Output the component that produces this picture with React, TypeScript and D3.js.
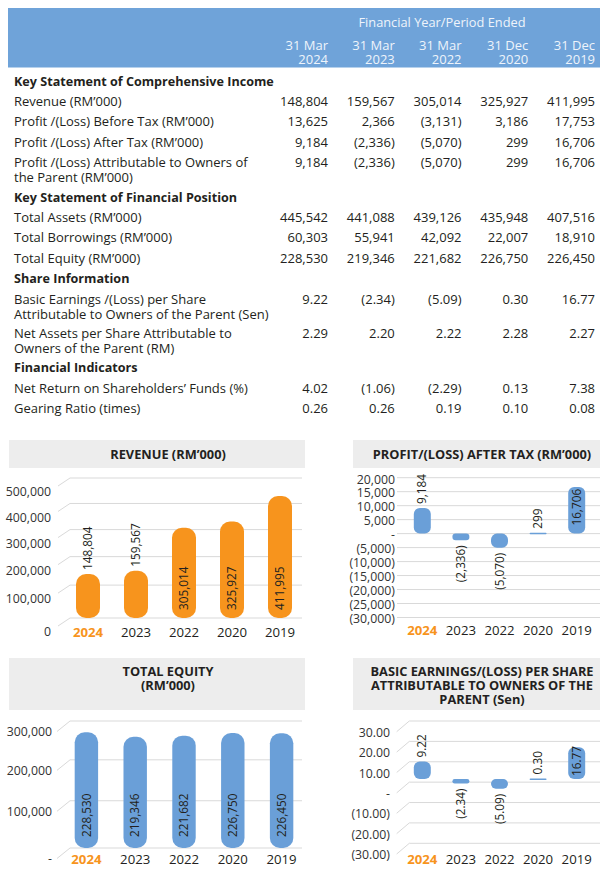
import React from 'react';
import * as d3 from 'd3';

// ---------- DATA ----------
const years = ['2024', '2023', '2022', '2020', '2019'];
const periodEnds = ['31 Mar', '31 Mar', '31 Mar', '31 Dec', '31 Dec'];
const tableHeader = 'Financial Year/Period Ended';

const revenue = [148804, 159567, 305014, 325927, 411995];
const profitBeforeTax = [13625, 2366, -3131, 3186, 17753];
const profitAfterTax = [9184, -2336, -5070, 299, 16706];
const profitOwners = [9184, -2336, -5070, 299, 16706];
const totalAssets = [445542, 441088, 439126, 435948, 407516];
const totalBorrowings = [60303, 55941, 42092, 22007, 18910];
const totalEquity = [228530, 219346, 221682, 226750, 226450];
const basicEps = [9.22, -2.34, -5.09, 0.3, 16.77];
const netAssetsPerShare = [2.29, 2.2, 2.22, 2.28, 2.27];
const netReturn = [4.02, -1.06, -2.29, 0.13, 7.38];
const gearingRatio = [0.26, 0.26, 0.19, 0.1, 0.08];

const revenueTicks = [0, 100000, 200000, 300000, 400000, 500000];
const profitTicks = [-30000, -25000, -20000, -15000, -10000, -5000, 0, 5000, 10000, 15000, 20000];
const equityTicks = [0, 100000, 200000, 300000];
const epsTicks = [-30, -20, -10, 0, 10, 20, 30];

const revenueTitle = ['REVENUE (RM’000)'];
const profitTitle = ['PROFIT/(LOSS) AFTER TAX (RM’000)'];
const equityTitle = ['TOTAL EQUITY', '(RM’000)'];
const epsTitle = ['BASIC EARNINGS/(LOSS) PER SHARE', 'ATTRIBUTABLE TO OWNERS OF THE', 'PARENT (Sen)'];

// ---------- STYLE ----------
const FONT = "'Open Sans', 'Noto Sans', sans-serif";
const TEXT = '#231f20';
const BLUE = '#6fa3d9';
const BAR_BLUE = '#6a9fd8';
const ORANGE = '#f7941d';
const GRAY_BAND = '#ededed';
const GRID = '#d9d9d9';

const fInt = d3.format(',');
const f2 = d3.format('.2f');
const fmtInt = (v: number) => (v < 0 ? `(${fInt(-v)})` : fInt(v));
const fmtDec = (v: number) => (v < 0 ? `(${f2(-v)})` : f2(v));

type Row =
  | { kind: 'section'; label: string }
  | { kind: 'row'; lines: string[]; values: number[]; fmt: (v: number) => string };

const tableRows: Row[] = [
  { kind: 'section', label: 'Key Statement of Comprehensive Income' },
  { kind: 'row', lines: ['Revenue (RM’000)'], values: revenue, fmt: fmtInt },
  { kind: 'row', lines: ['Profit /(Loss) Before Tax (RM’000)'], values: profitBeforeTax, fmt: fmtInt },
  { kind: 'row', lines: ['Profit /(Loss) After Tax (RM’000)'], values: profitAfterTax, fmt: fmtInt },
  { kind: 'row', lines: ['Profit /(Loss) Attributable to Owners of', 'the Parent (RM’000)'], values: profitOwners, fmt: fmtInt },
  { kind: 'section', label: 'Key Statement of Financial Position' },
  { kind: 'row', lines: ['Total Assets (RM’000)'], values: totalAssets, fmt: fmtInt },
  { kind: 'row', lines: ['Total Borrowings (RM’000)'], values: totalBorrowings, fmt: fmtInt },
  { kind: 'row', lines: ['Total Equity (RM’000)'], values: totalEquity, fmt: fmtInt },
  { kind: 'section', label: 'Share Information' },
  { kind: 'row', lines: ['Basic Earnings /(Loss) per Share', 'Attributable to Owners of the Parent (Sen)'], values: basicEps, fmt: fmtDec },
  { kind: 'row', lines: ['Net Assets per Share Attributable to', 'Owners of the Parent (RM)'], values: netAssetsPerShare, fmt: fmtDec },
  { kind: 'section', label: 'Financial Indicators' },
  { kind: 'row', lines: ['Net Return on Shareholders’ Funds (%)'], values: netReturn, fmt: fmtDec },
  { kind: 'row', lines: ['Gearing Ratio (times)'], values: gearingRatio, fmt: fmtDec },
];

function Table() {
  const col = d3.scalePoint<string>().domain(years).range([328, 595]);
  const items: React.ReactNode[] = [];
  let y = 81;
  tableRows.forEach((r, i) => {
    if (r.kind === 'section') {
      items.push(
        <text key={i} x={14} y={y + 4.5} fontWeight={700} fontSize={12.6} fill={TEXT}>
          {r.label}
        </text>
      );
      y += 20.4;
    } else {
      items.push(
        <text key={`${i}-l`} x={14} y={y + 4.5} fontSize={13} fill={TEXT}>
          {r.lines.map((ln, j) => (
            <tspan key={j} x={14} dy={j === 0 ? 0 : 15}>
              {ln}
            </tspan>
          ))}
        </text>
      );
      r.values.forEach((v, k) => {
        items.push(
          <text key={`${i}-v${k}`} x={col(years[k])} y={y + 4.5} fontSize={13} fill={TEXT} textAnchor="end">
            {r.fmt(v)}
          </text>
        );
      });
      y += r.lines.length > 1 ? 34.4 : 20.4;
    }
  });
  return (
    <g fontFamily={FONT}>
      <rect x={8} y={8} width={592} height={59.5} fill={BLUE} />
      <text x={442} y={26.5} textAnchor="middle" fontSize={12.8} fill="#eef4fb">
        {tableHeader}
      </text>
      {years.map((yr, k) => (
        <text key={yr} x={col(yr)} y={50} fontSize={13} fill="#eef4fb" textAnchor="end">
          <tspan x={col(yr)} dy={0}>{periodEnds[k]}</tspan>
          <tspan x={col(yr)} dy={14}>{yr}</tspan>
        </text>
      ))}
      {items}
    </g>
  );
}

type PanelCfg = {
  values: number[];
  color: string;
  xRange: [number, number];
  barFrac: number;
  maxR: number;
  grid: (v: number) => number;
  bar: (v: number) => number;
  ticks: number[];
  tickFmt: (v: number) => string;
  tickX: number;
  tickDy: number;
  slantDx: number;
  slantDy: number;
  gridLeft: number;
  gridRight: number;
  band: [number, number, number, number];
  title: string[];
  titleX: number;
  titleY: number;
  titleLH: number;
  insideMin: number;
  insidePad: number;
  valueFmt: (v: number) => string;
  xLabelY: number;
};

function Panel({ c }: { c: PanelCfg }) {
  const x = d3.scalePoint<string>().domain(years).range(c.xRange).padding(0.5);
  const bw = x.step() * c.barFrac;
  const zero = c.bar(0);
  return (
    <g fontFamily={FONT}>
      <rect x={c.band[0]} y={c.band[1]} width={c.band[2]} height={c.band[3]} fill={GRAY_BAND} />
      <text x={c.titleX} y={c.titleY} textAnchor="middle" fontWeight={700} fontSize={12.8} fill={TEXT}>
        {c.title.map((t, i) => (
          <tspan key={i} x={c.titleX} dy={i === 0 ? 0 : c.titleLH}>
            {t}
          </tspan>
        ))}
      </text>
      {c.ticks.map((t) => {
        const gy = c.grid(t);
        return (
          <g key={t}>
            <path
              d={`M${c.gridLeft},${gy + c.slantDy}L${c.gridLeft + c.slantDx},${gy}H${c.gridRight}`}
              fill="none"
              stroke={GRID}
              strokeWidth={1}
            />
            <text x={c.tickX} y={gy + c.tickDy} dy="0.35em" textAnchor="end" fontSize={12.3} fill="#333">
              {c.tickFmt(t)}
            </text>
          </g>
        );
      })}
      {c.values.map((v, i) => {
        const cx = x(years[i])!;
        const yv = c.bar(v);
        const top = Math.min(yv, zero);
        const h = Math.max(Math.abs(yv - zero), 1.5);
        const r = Math.min(c.maxR, h / 2, bw / 2);
        const label = c.valueFmt(v);
        let ly: number;
        let anchor: 'start' | 'end';
        if (v >= 0 && h >= c.insideMin) {
          ly = zero - c.insidePad;
          anchor = 'start';
        } else if (v >= 0) {
          ly = top - 4;
          anchor = 'start';
        } else {
          ly = top + h + 5;
          anchor = 'end';
        }
        return (
          <g key={years[i]}>
            <rect x={cx - bw / 2} y={top} width={bw} height={h} rx={r} ry={r} fill={c.color} />
            <text
              transform={`translate(${cx},${ly}) rotate(-90)`}
              dy="0.35em"
              textAnchor={anchor}
              fontSize={11.8}
              fill={TEXT}
            >
              {label}
            </text>
          </g>
        );
      })}
      {years.map((yr, i) => (
        <text
          key={yr}
          x={x(yr)}
          y={c.xLabelY}
          textAnchor="middle"
          fontSize={13.2}
          fontWeight={i === 0 ? 700 : 400}
          fill={i === 0 ? ORANGE : TEXT}
        >
          {yr}
        </text>
      ))}
    </g>
  );
}

export default function App() {
  const revGrid = d3.scalePow().exponent(0.9).domain([0, 500000]).range([618, 478]);
  const revBar = d3.scaleLinear().domain([0, 500000]).range([618, 470]);
  const profGrid = d3.scaleLinear().domain([-30000, 20000]).range([617.5, 477.7]);
  const eqGrid = d3.scalePow().exponent(0.9).domain([0, 300000]).range([848, 721]);
  const eqBar = d3.scaleLinear().domain([0, 300000]).range([848, 696]);
  const epsGrid = d3.scaleLinear().domain([-30, 30]).range([843.3, 721]);
  const epsBar = d3.scaleLinear().domain([-30, 30]).range([836, 722]);

  const dashZero = (f: (v: number) => string) => (v: number) => (v === 0 ? '-' : f(v));

  const panels: PanelCfg[] = [
    {
      values: revenue, color: ORANGE, xRange: [64, 304], barFrac: 0.5, maxR: 10,
      grid: revGrid, bar: revBar, ticks: revenueTicks, tickFmt: fmtInt, tickX: 51, tickDy: 14,
      slantDx: 12, slantDy: 8, gridLeft: 58, gridRight: 302,
      band: [9, 440, 296, 28], title: revenueTitle, titleX: 168, titleY: 458.5, titleLH: 14,
      insideMin: 60, insidePad: 8, valueFmt: fmtInt, xLabelY: 636.5,
    },
    {
      values: profitAfterTax, color: BAR_BLUE, xRange: [403, 596], barFrac: 0.44, maxR: 6,
      grid: profGrid, bar: profGrid, ticks: profitTicks, tickFmt: dashZero(fmtInt), tickX: 395, tickDy: 1.5,
      slantDx: 0, slantDy: 0, gridLeft: 397, gridRight: 600,
      band: [353, 440, 247, 28], title: profitTitle, titleX: 482, titleY: 458.5, titleLH: 14,
      insideMin: 40, insidePad: 8, valueFmt: fmtInt, xLabelY: 634.5,
    },
    {
      values: totalEquity, color: BAR_BLUE, xRange: [62, 306], barFrac: 0.48, maxR: 10,
      grid: eqGrid, bar: eqBar, ticks: equityTicks, tickFmt: dashZero(fmtInt), tickX: 52, tickDy: 11,
      slantDx: 13, slantDy: 10.5, gridLeft: 57, gridRight: 302,
      band: [9, 658, 296, 52], title: equityTitle, titleX: 168, titleY: 676, titleLH: 14,
      insideMin: 60, insidePad: 11, valueFmt: fmtInt, xLabelY: 864,
    },
    {
      values: basicEps, color: BAR_BLUE, xRange: [403, 596], barFrac: 0.44, maxR: 6,
      grid: epsGrid, bar: epsBar, ticks: epsTicks, tickFmt: dashZero(fmtDec), tickX: 390, tickDy: 11.5,
      slantDx: 12.6, slantDy: 10.7, gridLeft: 396.7, gridRight: 600,
      band: [353, 658, 247, 52], title: epsTitle, titleX: 482, titleY: 676, titleLH: 14,
      insideMin: 25, insidePad: 3, valueFmt: fmtDec, xLabelY: 864,
    },
  ];

  return (
    <svg
      width={610}
      height={880}
      viewBox="0 0 610 880"
      style={{ position: 'absolute', left: 0, top: 0, background: '#fff' }}
    >
      <rect width={610} height={880} fill="#fff" />
      <Table />
      {panels.map((p, i) => (
        <Panel key={i} c={p} />
      ))}
    </svg>
  );
}
